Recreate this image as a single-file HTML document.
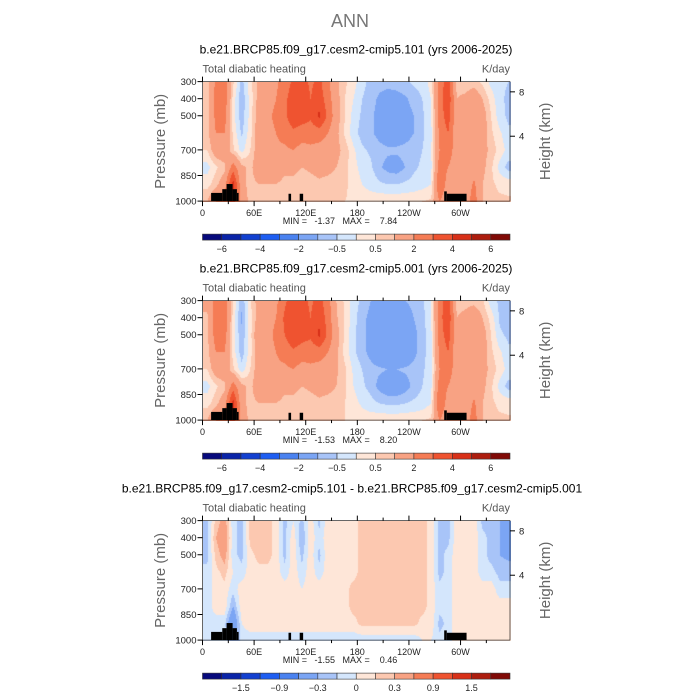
<!DOCTYPE html>
<html><head><meta charset="utf-8">
<style>
body{margin:0;background:#fff;}
#root{position:relative;width:700px;height:700px;overflow:hidden;font-family:"Liberation Sans",sans-serif;}
canvas{position:absolute;}
</style></head>
<body>
<div id="root">
<svg id="svg" width="700" height="700" style="position:absolute;left:0;top:0"></svg>
</div>
<script>
// ---- data ----
const lonCenters=[5,15,25,35,45,55,65,75,85,95,105,115,125,135,145,155,165,175,185,195,205,215,225,235,245,255,265,275,285,295,305,315,325,335,345,355];
const pLevels=[300,400,500,600,700,800,900,1000];
const panel1Values=[
[0.7,2.2,2.5,0.6,-0.7,0.3,1.2,1.5,1.8,2.5,3.2,3.5,2.8,3.3,2.2,1.2,0.6,0.2,-0.3,-0.7,-0.8,-0.8,-0.7,-0.6,-0.4,-0.3,0.2,2.5,3.5,0.8,0.6,0.7,0.4,-0.2,-0.4,-0.5],
[0.6,2.4,2.6,0.3,-0.9,0.2,1.3,1.6,2.0,2.8,3.5,3.8,3.0,3.6,2.5,1.3,0.5,0.0,-0.5,-0.8,-1.1,-1.3,-1.3,-1.1,-0.8,-0.5,0.0,2.5,3.8,1.0,1.2,1.6,1.0,0.3,-0.4,-0.6],
[0.6,2.3,2.4,0.2,-0.8,0.2,1.5,1.8,2.2,2.8,3.6,3.5,3.2,4.2,2.8,1.4,0.5,-0.2,-0.6,-0.9,-1.2,-1.4,-1.4,-1.3,-1.0,-0.6,-0.1,2.5,3.5,1.2,1.5,2.0,1.4,0.5,-0.3,-0.6],
[0.8,2.0,2.0,0.4,-0.6,0.3,1.5,1.7,2.0,2.4,2.8,2.5,2.4,2.5,2.0,1.2,0.4,-0.3,-0.7,-0.9,-1.2,-1.4,-1.4,-1.3,-1.0,-0.6,-0.2,2.2,3.0,1.3,1.4,1.9,1.4,0.6,0.1,-0.4],
[0.5,1.5,1.6,0.6,-0.2,0.5,1.5,1.7,1.8,1.8,2.0,1.6,1.8,1.6,1.5,1.2,0.8,0.1,-0.4,-0.6,-0.8,-0.9,-0.9,-0.8,-0.7,-0.5,-0.1,2.0,2.8,1.2,1.2,1.8,1.3,0.8,0.3,-0.2],
[-0.2,0.4,0.8,2.5,1.2,0.8,1.6,1.6,1.5,1.2,1.2,1.0,1.1,1.2,1.2,1.0,0.7,0.2,-0.2,-0.4,-0.9,-1.2,-1.3,-1.0,-0.6,-0.4,-0.2,2.5,2.0,1.0,1.0,1.5,1.2,0.6,-0.2,-0.7],
[0.3,0.8,1.5,4.5,1.2,0.8,1.0,1.0,1.0,0.8,0.8,0.7,0.8,0.9,0.8,0.7,0.6,0.3,0.0,-0.2,-0.4,-0.5,-0.5,-0.4,-0.3,-0.2,0.0,3.0,1.5,1.0,1.2,2.2,1.0,0.6,0.4,0.3],
[1.0,2.0,2.5,3.5,1.5,0.8,0.7,0.7,0.7,0.6,0.6,0.6,0.6,0.7,0.6,0.6,0.5,0.4,0.3,0.3,0.4,0.4,0.4,0.4,0.4,0.5,0.6,2.0,1.2,1.0,1.5,2.5,1.0,0.6,0.6,0.6]];
const panel2Values=[
[1.2,2.4,2.6,0.5,-0.9,0.4,1.4,1.6,1.8,2.8,3.6,3.4,2.8,3.4,2.4,1.0,0.4,-0.3,-0.6,-1.0,-1.2,-1.3,-1.2,-1.0,-0.8,-0.6,0.0,2.6,3.6,0.8,0.8,0.8,0.6,-0.3,-0.6,-0.7],
[0.9,2.6,2.7,0.3,-1.1,0.3,1.4,1.7,2.0,3.2,4.0,3.6,3.0,3.8,2.6,1.1,0.4,-0.3,-0.8,-1.2,-1.6,-1.8,-1.8,-1.5,-1.0,-0.7,-0.1,2.6,3.8,1.0,1.2,1.6,1.0,0.3,-0.6,-0.8],
[0.8,2.5,2.5,0.2,-0.9,0.3,1.8,1.7,2.2,3.0,3.8,3.4,3.2,4.2,2.8,1.3,0.4,-0.4,-0.8,-1.2,-1.7,-1.9,-1.9,-1.7,-1.2,-0.7,-0.2,2.5,3.5,1.2,1.5,2.0,1.4,0.5,-0.4,-0.6],
[0.8,2.0,2.0,0.3,-0.8,0.3,1.5,1.7,2.0,2.4,2.8,2.5,2.4,2.5,2.0,1.2,0.3,-0.4,-0.8,-1.2,-1.7,-1.9,-1.9,-1.7,-1.2,-0.7,-0.2,2.2,3.0,1.3,1.4,1.9,1.4,0.6,0.1,-0.4],
[0.5,1.5,1.6,0.6,-0.3,0.5,1.5,1.7,1.8,1.8,2.0,1.6,1.8,1.6,1.5,1.1,0.6,-0.1,-0.5,-0.8,-0.9,-1.0,-1.0,-0.9,-0.8,-0.6,-0.2,2.0,2.8,1.2,1.2,1.8,1.3,0.8,0.3,-0.2],
[-0.2,0.4,0.8,2.5,1.2,0.8,1.6,1.6,1.5,1.2,1.2,1.0,1.1,1.2,1.2,1.0,0.6,0.0,-0.4,-0.7,-1.2,-1.5,-1.5,-1.3,-0.8,-0.5,-0.2,2.5,2.0,1.0,1.0,1.5,1.2,0.6,-0.2,-0.7],
[0.3,0.8,1.5,4.5,1.2,0.8,1.0,1.0,1.0,0.8,0.8,0.7,0.8,0.9,0.8,0.7,0.5,0.2,-0.1,-0.3,-0.5,-0.6,-0.6,-0.5,-0.4,-0.3,0.0,3.0,1.5,1.0,1.2,2.2,1.0,0.6,0.4,0.3],
[1.0,2.0,2.5,3.5,1.5,0.8,0.7,0.7,0.7,0.6,0.6,0.6,0.6,0.7,0.6,0.6,0.5,0.4,0.3,0.3,0.4,0.4,0.4,0.4,0.4,0.5,0.6,2.0,1.2,1.0,1.5,2.5,1.0,0.6,0.6,0.6]];
const panel3Values=[
[-0.2,0.2,0.4,-0.1,-0.2,0.2,0.3,0.2,0.1,-0.2,0.0,-0.2,0.1,-0.2,0.1,0.1,0.0,0.1,0.2,0.2,0.2,0.2,0.2,0.2,0.2,0.2,0.1,-0.2,-0.2,0.1,0.1,0.1,-0.2,-0.2,-0.3,-0.4],
[-0.2,0.3,0.5,-0.1,-0.2,0.2,0.3,0.2,0.1,-0.2,0.1,-0.3,0.1,-0.1,0.1,0.1,0.0,0.1,0.2,0.3,0.2,0.2,0.2,0.2,0.2,0.2,0.1,-0.2,-0.2,0.1,0.1,0.1,-0.1,-0.2,-0.3,-0.4],
[-0.2,0.2,0.4,-0.1,-0.2,0.1,0.2,0.2,0.1,-0.2,0.1,-0.2,0.1,-0.2,0.1,0.1,0.0,0.1,0.2,0.2,0.2,0.2,0.2,0.2,0.2,0.2,0.1,-0.2,-0.1,0.1,0.1,0.1,-0.1,-0.2,-0.3,-0.35],
[-0.1,0.1,0.2,0.0,-0.1,0.1,0.1,0.1,0.1,-0.1,0.1,-0.1,0.1,-0.1,0.1,0.1,0.1,0.1,0.2,0.2,0.2,0.2,0.2,0.2,0.2,0.2,0.1,-0.2,-0.1,0.1,0.1,0.1,-0.1,-0.1,-0.2,-0.2],
[-0.1,0.1,0.1,-0.1,0.1,0.1,0.1,0.1,0.1,0.1,0.1,0.0,0.1,0.1,0.1,0.1,0.1,0.2,0.2,0.2,0.2,0.2,0.2,0.2,0.2,0.2,0.1,-0.1,-0.1,0.1,0.1,0.1,0.1,0.1,-0.1,-0.1],
[-0.1,0.1,0.1,-0.3,0.1,0.1,0.1,0.1,0.1,0.1,0.1,0.1,0.1,0.1,0.1,0.1,0.1,0.2,0.2,0.2,0.2,0.2,0.2,0.2,0.2,0.2,0.1,-0.1,-0.1,0.1,0.1,0.1,0.1,0.1,0.1,0.1],
[-0.1,-0.1,-0.1,-0.6,0.0,0.1,0.1,0.1,0.1,0.1,0.1,0.1,0.1,0.1,0.1,0.1,0.1,0.1,0.2,0.2,0.2,0.2,0.2,0.2,0.2,0.1,0.1,-0.2,-0.1,0.1,0.1,0.1,0.1,0.1,0.1,0.1],
[-0.1,-0.1,-0.1,-0.3,-0.1,-0.1,-0.1,-0.1,-0.1,-0.1,-0.1,-0.1,-0.1,-0.1,-0.1,-0.1,-0.1,-0.1,-0.1,-0.1,-0.1,-0.1,-0.1,-0.1,-0.1,0.0,0.0,-0.1,-0.1,0.1,0.1,0.1,0.1,0.1,0.1,0.1]];
const levelsMain=[-6,-5,-4,-3,-2,-1,-0.5,0,0.5,1,2,3,4,5,6];
const levelsDiff=[-1.8,-1.5,-1.2,-0.9,-0.6,-0.3,-0.15,0,0.15,0.3,0.6,0.9,1.2,1.5,1.8];
const labelsMain=["-6","-4","-2","-0.5","0.5","2","4","6"];
const labelsDiff=["-1.5","-0.9","-0.3","0","0.3","0.9","1.5"];
// topography blocks: [lonStart, lonEnd, surfacePressure]
const topoBlocks=[[10,23,952],[23,28,930],[28,35,900],[35,40,930],[40,42,952],[100,103,957],[113,117,957],[281,284,943],[284,307,957]];
const lonTicks=[0,60,120,180,240,300];
const lonTickLabels=["0","60E","120E","180","120W","60W"];
const pTicks=[300,400,500,700,850,1000];
const heightTicks=[8,4];
const heightTickP=[360,620];
const minMax=[["-1.37","7.84"],["-1.53","8.20"],["-1.55","0.46"]];
const titles=["b.e21.BRCP85.f09_g17.cesm2-cmip5.101 (yrs 2006-2025)","b.e21.BRCP85.f09_g17.cesm2-cmip5.001 (yrs 2006-2025)","b.e21.BRCP85.f09_g17.cesm2-cmip5.101 - b.e21.BRCP85.f09_g17.cesm2-cmip5.001"];

const colors=["#070a7c","#0a24a8","#1240d0","#1e5ef2","#4a82f0","#7ba5f4","#a8c4f8","#d4e6fc","#fee6d8","#fcc8b0","#f8a283","#f57c55","#ef5330","#d83018","#ad1d0e","#800a06"];

const X0=202.5,W=307.5,LONMAX=357.5,H=119.5;
const panelTops=[81.6,300.6,520.6];
const root=document.getElementById('root'),svg=document.getElementById('svg');
const NS="http://www.w3.org/2000/svg";
function xs(lon){return X0+lon/LONMAX*W;}
function ys(top,p){return top+(p-300)/700*H;}
function txt(x,y,s,size,color,anchor,name){
  const t=document.createElementNS(NS,'text');
  t.setAttribute('x',x);t.setAttribute('y',y);t.setAttribute('font-size',size);
  t.setAttribute('fill',color);t.setAttribute('text-anchor',anchor||'start');
  t.setAttribute('font-family','"Liberation Sans",sans-serif');
  t.style.whiteSpace='pre';
  t.textContent=s;
  
  
  svg.appendChild(t);return t;
}
function line(x1,y1,x2,y2,name,w){
  const l=document.createElementNS(NS,'line');
  l.setAttribute('x1',x1);l.setAttribute('y1',y1);l.setAttribute('x2',x2);l.setAttribute('y2',y2);
  l.setAttribute('stroke','#000');l.setAttribute('stroke-width',w||1);
  
  
  svg.appendChild(l);
}
function rect(x,y,w,h,fill,name,stroke){
  const r=document.createElementNS(NS,'rect');
  r.setAttribute('x',x);r.setAttribute('y',y);r.setAttribute('width',w);r.setAttribute('height',h);
  r.setAttribute('fill',fill);if(stroke){r.setAttribute('stroke',stroke);r.setAttribute('stroke-width',0.6);}
  
  
  svg.appendChild(r);return r;
}
function colorIdx(v,lev){let i=0;while(i<lev.length&&v>=lev[i])i++;return i;}
function sample(vals,lon,p){
  let ci=(lon-lonCenters[0])/(lonCenters[1]-lonCenters[0]);
  ci=Math.max(0,Math.min(lonCenters.length-1,ci));
  let ri=0;while(ri<pLevels.length-2&&p>pLevels[ri+1])ri++;
  let rf=(p-pLevels[ri])/(pLevels[ri+1]-pLevels[ri]);rf=Math.max(0,Math.min(1,rf));
  const c0=Math.floor(ci),c1=Math.min(lonCenters.length-1,c0+1),cf=ci-c0;
  const a=vals[ri][c0]*(1-cf)+vals[ri][c1]*cf;
  const b=vals[ri+1][c0]*(1-cf)+vals[ri+1][c1]*cf;
  return a*(1-rf)+b*rf;
}
txt(350,27,"ANN",18,"#777","middle","figure-title");
const allVals=[panel1Values,panel2Values,panel3Values];
svg.style.zIndex=1;
for(let k=0;k<3;k++){
  const top=panelTops[k],vals=allVals[k],lev=k==2?levelsDiff:levelsMain,labs=k==2?labelsDiff:labelsMain;
  txt(k==2?352:356,top-28,titles[k],12,"#000","middle","panel-title-"+(k+1));
  txt(X0,top-9,"Total diabatic heating",11,"#555","start","variable-label");
  txt(X0+W,top-9,"K/day",11,"#555","end","units-label");
  const cv=document.createElement('canvas');
  cv.width=Math.round(W);cv.height=Math.round(H);
  cv.style.left=X0+'px';cv.style.top=top+'px';
  
  
  root.insertBefore(cv,svg);
  const ctx=cv.getContext('2d');
  for(let py=0;py<cv.height;py++){
    const p=300+(py+0.5)/H*700;
    for(let px=0;px<cv.width;px++){
      const lon=(px+0.5)/W*LONMAX;
      ctx.fillStyle=colors[colorIdx(sample(vals,lon,p),lev)];
      ctx.fillRect(px,py,1,1);
    }
  }
  topoBlocks.forEach(b=>rect(xs(b[0]),ys(top,b[2]),xs(b[1])-xs(b[0]),ys(top,1000)-ys(top,b[2]),"#000","topography"));
  rect(X0,top,W,H,"none","plot-frame","#000");
  lonTicks.forEach((l,i)=>{
    line(xs(l),top+H,xs(l),top+H+5,"x-tick");
    line(xs(l),top,xs(l),top-5,"x-tick-top");
    line(xs(l+30),top+H,xs(l+30),top+H+3,"x-minor-tick");
    line(xs(l+30),top,xs(l+30),top-3,"x-minor-tick-top");
    txt(xs(l),top+H+15,lonTickLabels[i],9,"#222","middle","x-tick-label");
  });
  pTicks.forEach(p=>{line(X0-5,ys(top,p),X0,ys(top,p),"y-tick");
    txt(X0-6,ys(top,p)+3.5,String(p),9.5,"#222","end","y-tick-label");});
  heightTicks.forEach((h,i)=>{const y=ys(top,heightTickP[i]);line(X0+W,y,X0+W+5,y,"height-tick");
    txt(X0+W+9,y+3.5,String(h),9.5,"#222","start","height-tick-label");});
  const yl=txt(0,0,"Pressure (mb)",15,"#666","middle","y-axis-title");
  yl.setAttribute('transform',`translate(165,${top+H/2}) rotate(-90)`);
  const hl=txt(0,0,"Height (km)",15,"#666","middle","right-axis-title");
  hl.setAttribute('transform',`translate(550,${top+H/2}) rotate(-90)`);
  txt(340,top+H+23,"MIN =   "+minMax[k][0]+"   MAX =    "+minMax[k][1],9,"#222","middle","min-max-label");
  const cbY=top+H+33,bw=W/16;
  for(let i=0;i<16;i++){rect(X0+i*bw,cbY,bw,6,colors[i],"colorbar-box","#333");}
  labs.forEach((s,i)=>{txt(X0+(2*i+1+(k==2?1:0))*bw,cbY+18,s.replace('-','\u2212'),9,"#222","middle","colorbar-label");});
}
</script>
</body></html>
